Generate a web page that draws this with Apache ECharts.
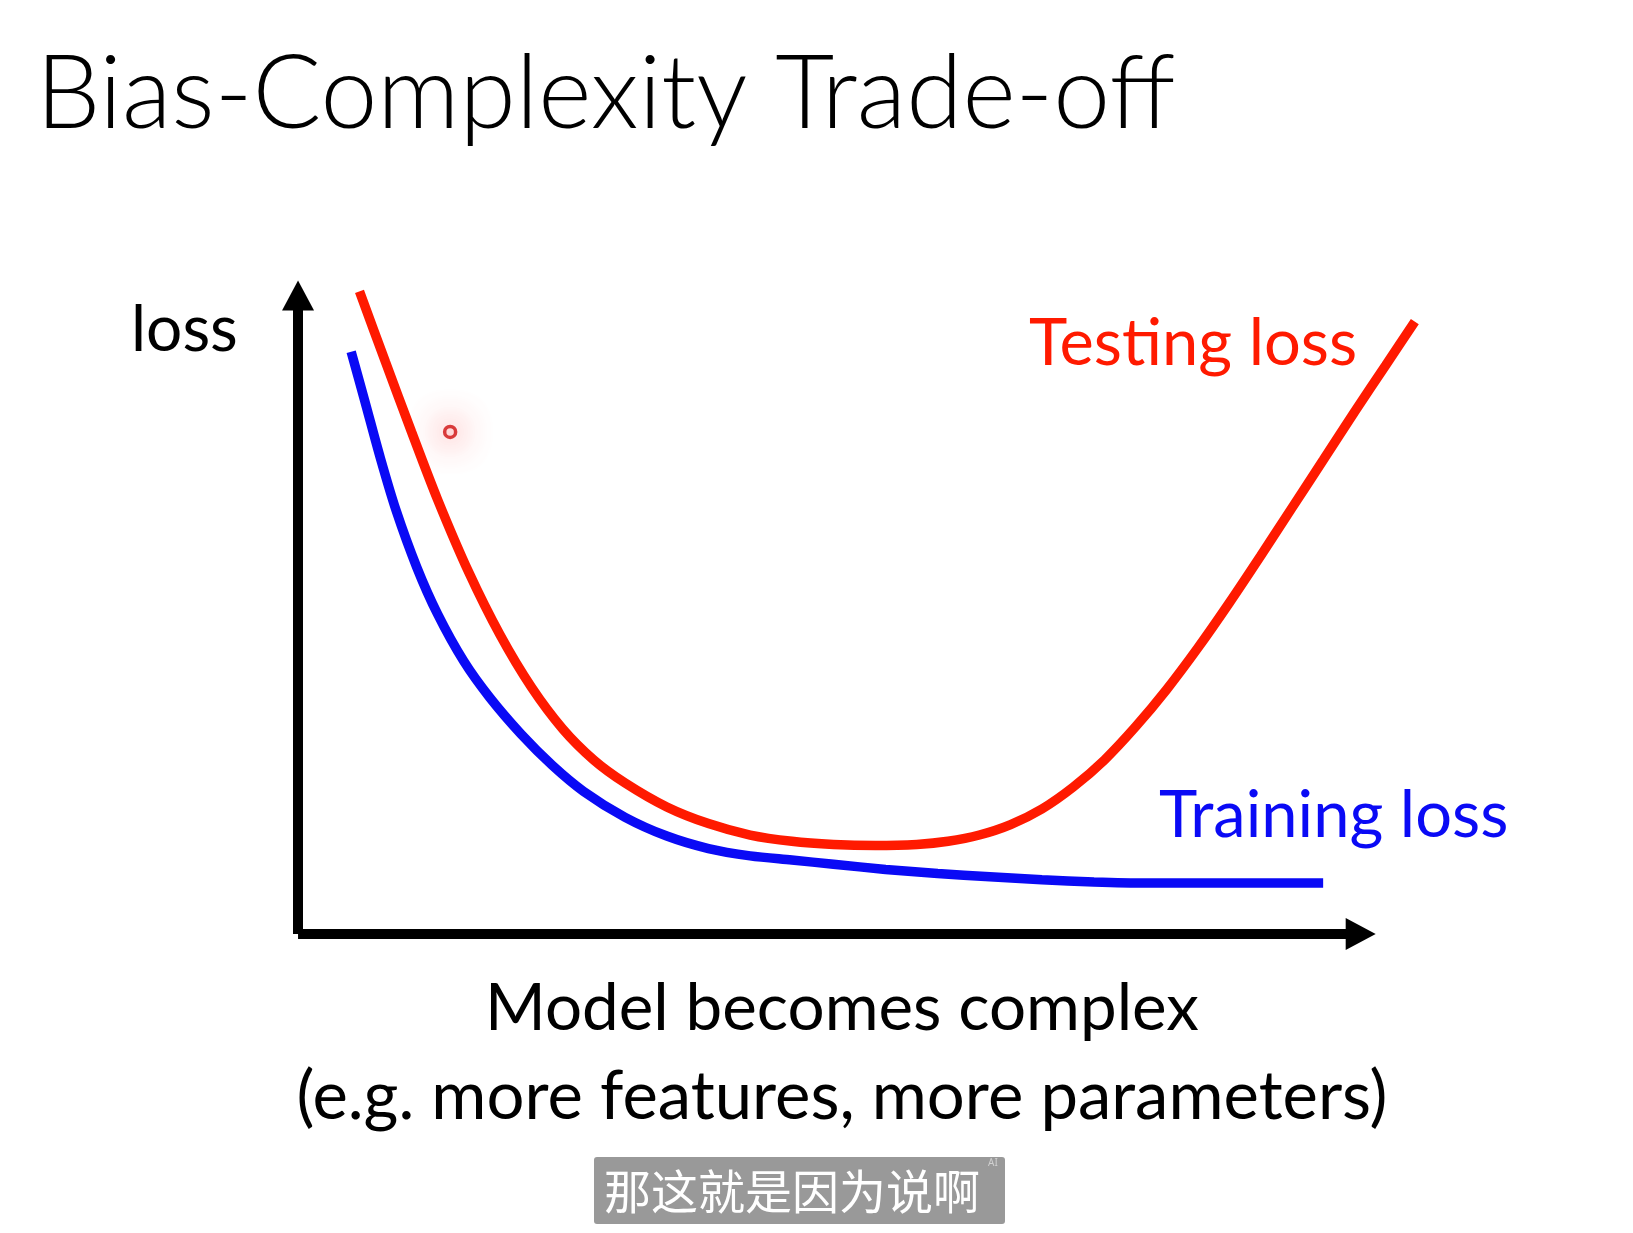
<!DOCTYPE html>
<html>
<head>
<meta charset="utf-8">
<script src="https://cdn.jsdelivr.net/npm/echarts/dist/echarts.min.js"></script>
<style>
html,body{margin:0;padding:0;background:#fff;}
#chart{width:1633px;height:1233px;}
</style>
</head>
<body>
<div id="chart"></div>
<script>
// Model complexity (x) and loss (y), in arbitrary units
var testX = [5.9, 8.4, 10.9, 13.4, 16.4, 19.4, 22.4, 25.4, 28.4, 31.4, 35.4, 39.4, 43.4, 47.4, 51.4, 55.4, 59.4, 62.4, 65.4, 68.4, 71.4, 74.4, 77.4, 80.4, 83.4, 86.4, 89.4, 92.4, 95.4, 98.4, 101.4, 104.4, 107.2];
var testY = [61.7, 54.9, 48.2, 41.7, 34.7, 28.7, 23.7, 19.7, 16.7, 14.5, 12.2, 10.6, 9.5, 8.9, 8.6, 8.5, 8.6, 8.9, 9.5, 10.5, 12.0, 14.1, 16.7, 19.9, 23.5, 27.5, 31.8, 36.3, 40.9, 45.5, 50.1, 54.6, 58.8];
var trainX = [5.1, 6.4, 7.9, 9.4, 11.4, 13.4, 15.9, 18.4, 21.4, 24.4, 27.4, 31.4, 35.4, 39.4, 43.4, 47.4, 51.4, 56.4, 61.4, 66.4, 71.4, 76.4, 81.4, 86.4, 91.4, 98.4];
var trainY = [55.9, 51.2, 45.7, 40.7, 35.2, 30.7, 26.2, 22.7, 19.2, 16.2, 13.7, 11.2, 9.4, 8.2, 7.5, 7.1, 6.7, 6.2, 5.8, 5.5, 5.2, 5.0, 4.9, 4.9, 4.9, 4.9];
var pointerX = [14.6];
var pointerY = [48.2];
// where the axis arrows end (arrow centre), in data units
var axisEndX = [102.0];
var axisEndY = [61.3];

var seriesNames = ['Testing loss', 'Training loss'];
var titleText = 'Bias-Complexity Trade-off';
var yAxisTitle = 'loss';
var xAxisTitle1 = 'Model becomes complex';
var xAxisTitle2 = '(e.g. more features, more parameters)';
var subtitleText = '那这就是因为说啊';

function pairs(xs, ys) { return xs.map(function (x, i) { return [x, ys[i]]; }); }

var FONT = 'Lato, "Open Sans", sans-serif';
var chart = echarts.init(document.getElementById('chart'), null, {renderer: 'canvas'});
chart.setOption({
  animation: false,
  backgroundColor: '#ffffff',
  grid: {left: 277.2, right: 189, top: 257, bottom: 278.2, containLabel: false},
  xAxis: {
    type: 'value', min: -2, max: 110,
    axisLine: {show: false}, axisTick: {show: false}, axisLabel: {show: false}, splitLine: {show: false}
  },
  yAxis: {
    type: 'value', min: -2, max: 65,
    axisLine: {show: false}, axisTick: {show: false}, axisLabel: {show: false}, splitLine: {show: false}
  },
  series: [
    {
      name: 'axes', type: 'line', data: [], silent: true,
      markLine: {
        silent: true, symbol: ['none', 'triangle'], symbolSize: [32, 30],
        label: {show: false},
        lineStyle: {color: '#000', width: 10, type: 'solid'},
        emphasis: {disabled: true},
        data: [
          [{coord: [0, 0]}, {coord: [axisEndX[0], 0]}],
          [{coord: [0, 0]}, {coord: [0, axisEndY[0]]}]
        ]
      }
    },
    {
      name: seriesNames[0], type: 'line', data: pairs(testX, testY), smooth: 0.3,
      showSymbol: false, clip: false,
      lineStyle: {color: '#ff1a00', width: 9.5}
    },
    {
      name: seriesNames[1], type: 'line', data: pairs(trainX, trainY), smooth: 0.3,
      showSymbol: false, clip: false,
      lineStyle: {color: '#0a0af5', width: 9.5}
    },
    {
      name: 'pointer', type: 'scatter', data: pairs(pointerX, pointerY), clip: false,
      symbol: 'circle', symbolSize: 11,
      itemStyle: {color: '#ffe0e0', borderColor: '#d01010', borderWidth: 3.5,
        shadowBlur: 34, shadowColor: 'rgba(255,0,0,1)'}
    }
  ],
  graphic: [
    {type: 'text', x: 36, y: 95, style: {text: titleText, font: '300 102px ' + FONT, fill: '#000', textAlign: 'left', textVerticalAlign: 'middle'}},
    {type: 'text', x: 131, y: 330, style: {text: yAxisTitle, font: '400 64px ' + FONT, fill: '#000', textAlign: 'left', textVerticalAlign: 'middle'}},
    {type: 'text', x: 1029, y: 344, style: {text: seriesNames[0], font: '400 65px ' + FONT, fill: '#ff1a00', textAlign: 'left', textVerticalAlign: 'middle'}},
    {type: 'text', x: 1159, y: 816, style: {text: seriesNames[1], font: '400 65px ' + FONT, fill: '#0a0af5', textAlign: 'left', textVerticalAlign: 'middle'}},
    {type: 'text', x: 842, y: 1009, style: {text: xAxisTitle1, font: '400 65.5px ' + FONT, fill: '#000', textAlign: 'center', textVerticalAlign: 'middle'}},
    {type: 'text', x: 842, y: 1097, style: {text: xAxisTitle2, font: '400 67px ' + FONT, fill: '#000', textAlign: 'center', textVerticalAlign: 'middle'}},
    {type: 'rect', shape: {x: 594, y: 1157, width: 411, height: 67, r: 3}, style: {fill: '#999999'}},
    {type: 'text', x: 792, y: 1191, style: {text: subtitleText, font: '400 47px "Noto Sans CJK SC", sans-serif', fill: '#ffffff', textAlign: 'center', textVerticalAlign: 'middle'}},
    {type: 'text', x: 993, y: 1163, style: {text: 'AI', font: '400 10px "Noto Sans", sans-serif', fill: '#d0d0d0', textAlign: 'center', textVerticalAlign: 'middle'}}
  ]
});
</script>
</body>
</html>
